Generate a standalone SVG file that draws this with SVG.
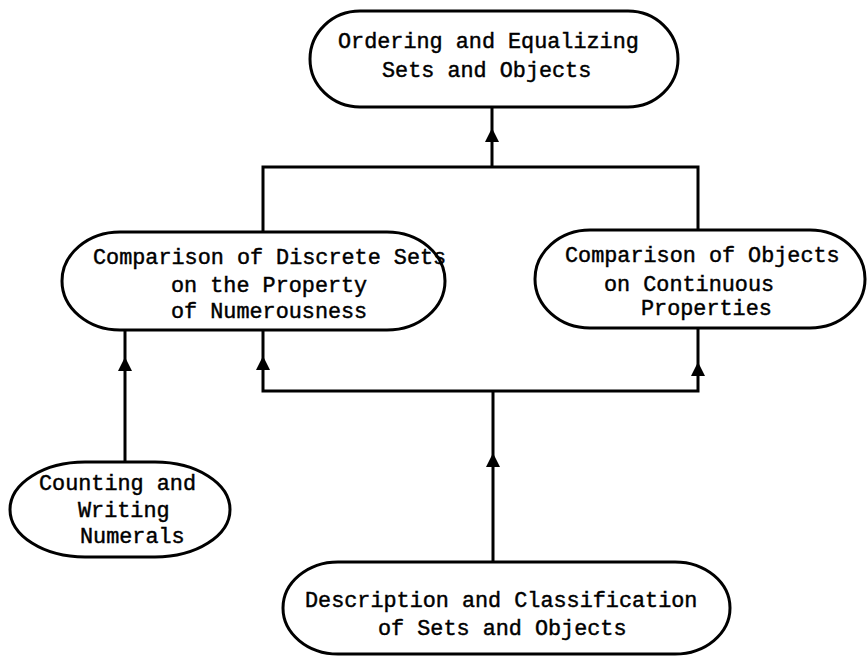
<svg xmlns="http://www.w3.org/2000/svg" xmlns:xlink="http://www.w3.org/1999/xlink" width="867" height="660" viewBox="0 0 867 660">
<style>
.node{fill:#fff;stroke:#000;stroke-width:3}
.lbl{font-family:"Liberation Mono","DejaVu Sans Mono",monospace;font-size:21.8px;fill:#000;stroke:#000;stroke-width:0.45}
.conn{fill:none;stroke:#000;stroke-width:3;stroke-linejoin:miter}
</style>
<defs>
<path id="ah" d="M0,0 L7,14 L-7,14 Z" fill="#000"/>
</defs>
<rect width="867" height="660" fill="#fff"/>
<g id="connectors">
<path class="conn" d="M492,107 V167 M263,232 V167 H698 V230"/>
<path class="conn" d="M125,330 V462"/>
<path class="conn" d="M263,330 V391 H698 V328 M493,391 V562"/>
<use xlink:href="#ah" x="492" y="128"/>
<use xlink:href="#ah" x="125" y="357"/>
<use xlink:href="#ah" x="263" y="356"/>
<use xlink:href="#ah" x="698" y="362"/>
<use xlink:href="#ah" x="493" y="453"/>
</g>
<g id="n_ordering">
<rect class="node" x="310" y="11" width="368" height="96" rx="50" ry="48"/>
<text class="lbl" x="338" y="48">Ordering and Equalizing</text>
<text class="lbl" x="382" y="77">Sets and Objects</text>
</g>
<g id="n_discrete">
<rect class="node" x="62" y="232" width="383" height="98" rx="58" ry="49"/>
<text class="lbl" x="93" y="264">Comparison of Discrete Sets</text>
<text class="lbl" x="171" y="292">on the Property</text>
<text class="lbl" x="171" y="318">of Numerousness</text>
</g>
<g id="n_continuous">
<rect class="node" x="535" y="230" width="330" height="98" rx="55" ry="49"/>
<text class="lbl" x="565" y="262">Comparison of Objects</text>
<text class="lbl" x="604" y="291">on Continuous</text>
<text class="lbl" x="641" y="315">Properties</text>
</g>
<g id="n_counting">
<rect class="node" x="10" y="462" width="220" height="95" rx="75" ry="47.5"/>
<text class="lbl" x="39" y="490">Counting and</text>
<text class="lbl" x="78" y="517">Writing</text>
<text class="lbl" x="80" y="543">Numerals</text>
</g>
<g id="n_description">
<rect class="node" x="283" y="562" width="447" height="92" rx="55" ry="46"/>
<text class="lbl" x="305" y="607">Description and Classification</text>
<text class="lbl" x="378" y="635">of Sets and Objects</text>
</g>
</svg>
